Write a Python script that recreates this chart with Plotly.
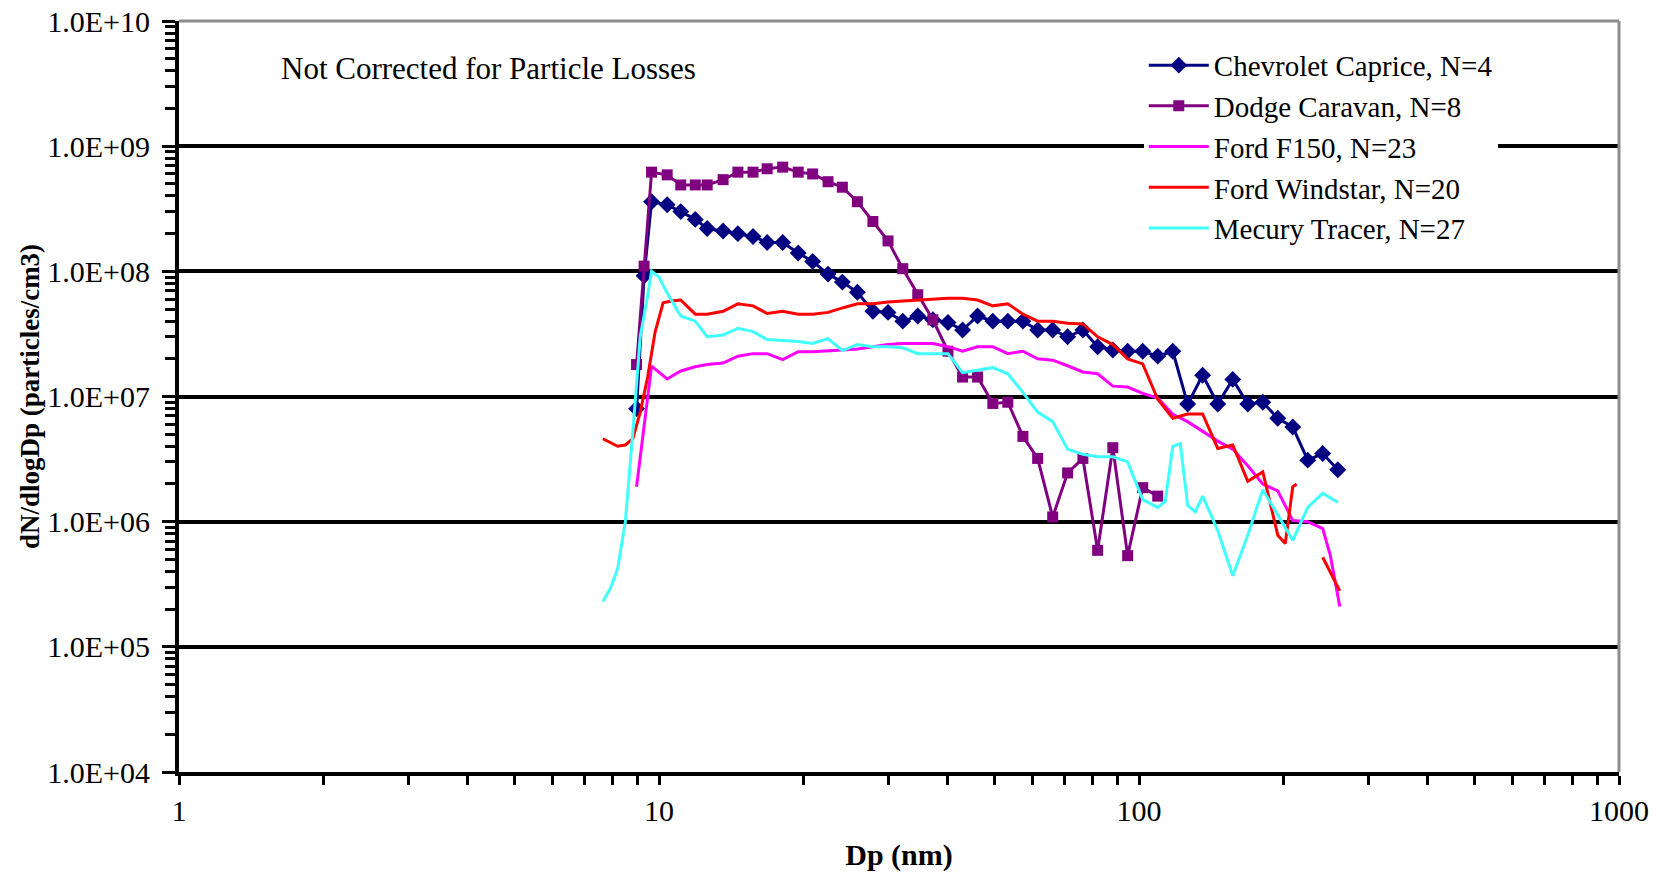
import plotly.graph_objects as go

# Particle size distributions (dN/dlogDp, particles/cm3) versus mobility diameter Dp (nm)
dp_chev = [8.98, 9.31, 9.65, 10.4, 11.1, 11.9, 12.6, 13.6, 14.6, 15.7, 16.8, 18.1,
           19.5, 20.9, 22.5, 24.1, 25.9, 27.9, 30.0, 32.2, 34.6, 37.2, 40.0, 42.9,
           46.1, 49.6, 53.3, 57.3, 61.5, 66.1, 71.0, 76.4, 82.0, 88.2, 94.7, 101.8,
           109.4, 117.6, 126.3, 135.7, 145.9, 156.8, 168.5, 181.1, 194.6, 209.1,
           224.7, 241.4, 259.5]
n_chev = [8.0e6, 9.2e7, 3.6e8, 3.4e8, 3.0e8, 2.6e8, 2.2e8, 2.1e8, 2.0e8, 1.9e8, 1.7e8, 1.7e8,
          1.4e8, 1.2e8, 9.5e7, 8.2e7, 6.8e7, 4.8e7, 4.7e7, 4.0e7, 4.4e7, 4.1e7, 3.9e7, 3.4e7,
          4.4e7, 4.0e7, 4.0e7, 4.0e7, 3.4e7, 3.4e7, 3.0e7, 3.4e7, 2.5e7, 2.35e7, 2.3e7, 2.3e7,
          2.1e7, 2.3e7, 8.7e6, 1.48e7, 8.7e6, 1.37e7, 8.7e6, 9.0e6, 6.7e6, 5.7e6,
          3.1e6, 3.5e6, 2.6e6]

dp_dodge = [8.98, 9.31, 9.65, 10.4, 11.1, 11.9, 12.6, 13.6, 14.6, 15.7, 16.8, 18.1,
            19.5, 20.9, 22.5, 24.1, 25.9, 27.9, 30.0, 32.2, 34.6, 37.2, 40.0, 42.9,
            46.1, 49.6, 53.3, 57.3, 61.5, 66.1, 71.0, 76.4, 82.0, 88.2, 94.7, 101.8,
            109.4]
n_dodge = [1.8e7, 1.1e8, 6.2e8, 5.9e8, 4.9e8, 4.9e8, 4.9e8, 5.4e8, 6.2e8, 6.2e8, 6.6e8, 6.8e8,
           6.2e8, 6.0e8, 5.2e8, 4.7e8, 3.6e8, 2.5e8, 1.75e8, 1.05e8, 6.5e7, 4.1e7, 2.3e7, 1.43e7,
           1.43e7, 8.8e6, 9.0e6, 4.8e6, 3.2e6, 1.09e6, 2.45e6, 3.2e6, 5.9e5, 3.9e6, 5.35e5, 1.87e6,
           1.6e6]

dp_f150 = [8.98, 9.31, 9.65, 10.4, 11.1, 11.9, 12.6, 13.6, 14.6, 15.7, 16.8, 18.1,
           19.5, 20.9, 22.5, 24.1, 25.9, 27.9, 30.0, 32.2, 34.6, 37.2, 40.0, 42.9,
           46.1, 49.6, 53.3, 57.3, 61.5, 66.1, 71.0, 76.4, 82.0, 88.2, 94.7, 101.8,
           109.4, 117.6, 126.3, 135.7, 145.9, 156.8, 168.5, 181.1, 194.6, 209.1,
           224.7, 241.4, 250.3, 262.0]
n_f150 = [1.9e6, 6.0e6, 1.75e7, 1.38e7, 1.6e7, 1.73e7, 1.8e7, 1.85e7, 2.1e7, 2.2e7, 2.2e7, 1.97e7,
          2.28e7, 2.28e7, 2.3e7, 2.35e7, 2.4e7, 2.5e7, 2.6e7, 2.65e7, 2.65e7, 2.65e7, 2.5e7, 2.3e7,
          2.5e7, 2.5e7, 2.2e7, 2.3e7, 2.0e7, 1.95e7, 1.76e7, 1.57e7, 1.52e7, 1.21e7, 1.19e7, 1.06e7,
          9.7e6, 7.2e6, 6.3e6, 5.25e6, 4.4e6, 3.8e6, 2.8e6, 2.0e6, 1.76e6, 1.02e6,
          1.0e6, 8.8e5, 5.4e5, 2.1e5]

dp_wind = [7.64, 7.91, 8.20, 8.51, 8.82, 9.14, 9.47, 9.82, 10.2, 10.6, 11.1, 11.9,
           12.6, 13.6, 14.6, 15.7, 16.8, 18.1, 19.5, 20.9, 22.5, 24.1, 25.9, 27.9,
           30.0, 32.2, 34.6, 37.2, 40.0, 42.9, 46.1, 49.6, 53.3, 57.3, 61.5, 66.1,
           71.0, 76.4, 82.0, 88.2, 94.7, 101.8, 109.4, 117.6, 126.3, 135.7, 145.9,
           156.8, 168.5, 181.1, 194.6, 201.7, 209.1, 213.0, 224.7, 241.4, 250.3, 262.0]
n_wind = [4.6e6, 4.3e6, 4.0e6, 4.1e6, 4.6e6, 7.5e6, 1.43e7, 3.3e7, 5.6e7, 5.8e7, 5.9e7, 4.55e7,
          4.55e7, 4.8e7, 5.5e7, 5.3e7, 4.6e7, 4.8e7, 4.55e7, 4.55e7, 4.7e7, 5.1e7, 5.5e7, 5.5e7,
          5.7e7, 5.8e7, 5.9e7, 6.0e7, 6.1e7, 6.1e7, 5.9e7, 5.3e7, 5.5e7, 4.55e7, 4.0e7, 4.0e7,
          3.85e7, 3.8e7, 3.0e7, 2.6e7, 2.0e7, 1.82e7, 9.5e6, 6.7e6, 7.25e6, 7.25e6, 3.85e6,
          4.1e6, 2.1e6, 2.5e6, 7.8e5, 6.7e5, 1.9e6, 2.0e6, None, 5.2e5, 3.9e5, 2.8e5]

dp_merc = [7.64, 7.91, 8.20, 8.51, 8.82, 9.14, 9.47, 9.65, 10.0, 10.4, 11.1, 11.9,
           12.6, 13.6, 14.6, 15.7, 16.8, 18.1, 19.5, 20.9, 22.5, 24.1, 25.9, 27.9,
           30.0, 32.2, 34.6, 37.2, 40.0, 42.9, 46.1, 49.6, 53.3, 57.3, 61.5, 66.1,
           71.0, 76.4, 82.0, 88.2, 94.7, 101.8, 109.4, 113.4, 117.6, 121.9, 126.3,
           131.0, 135.7, 145.9, 156.8, 168.5, 181.1, 194.6, 209.1, 224.7, 241.4, 259.5]
n_merc = [2.3e5, 2.9e5, 4.2e5, 1.0e6, 5.2e6, 3.0e7, 6.4e7, 1.0e8, 9.0e7, 6.7e7, 4.4e7, 4.0e7,
          3.0e7, 3.1e7, 3.5e7, 3.3e7, 2.85e7, 2.8e7, 2.75e7, 2.65e7, 2.9e7, 2.33e7, 2.6e7, 2.5e7,
          2.5e7, 2.45e7, 2.2e7, 2.2e7, 2.2e7, 1.55e7, 1.63e7, 1.7e7, 1.52e7, 1.08e7, 7.5e6, 6.3e6,
          3.8e6, 3.45e6, 3.3e6, 3.3e6, 3.0e6, 1.5e6, 1.3e6, 1.45e6, 4.0e6, 4.2e6, 1.35e6,
          1.2e6, 1.6e6, 8.5e5, 3.7e5, 7.8e5, 1.8e6, 1.12e6, 7.1e5, 1.3e6, 1.68e6, 1.43e6]

x_tickvals = [1, 10, 100, 1000]
x_ticktext = ["1", "10", "100", "1000"]
y_tickvals = [1e4, 1e5, 1e6, 1e7, 1e8, 1e9, 1e10]
y_ticktext = ["1.0E+04", "1.0E+05", "1.0E+06", "1.0E+07", "1.0E+08", "1.0E+09", "1.0E+10"]

SERIF = "Liberation Serif, Times New Roman, serif"

fig = go.Figure()
fig.add_trace(go.Scatter(
    x=dp_chev, y=n_chev, name="Chevrolet Caprice, N=4", mode="lines+markers",
    line=dict(color="#000080", width=3),
    marker=dict(symbol="diamond", size=13, color="#000080")))
fig.add_trace(go.Scatter(
    x=dp_dodge, y=n_dodge, name="Dodge Caravan, N=8", mode="lines+markers",
    line=dict(color="#800080", width=3),
    marker=dict(symbol="square", size=11, color="#800080")))
fig.add_trace(go.Scatter(
    x=dp_f150, y=n_f150, name="Ford F150, N=23", mode="lines",
    line=dict(color="#FF00FF", width=3)))
fig.add_trace(go.Scatter(
    x=dp_wind, y=n_wind, name="Ford Windstar, N=20", mode="lines",
    line=dict(color="#FF0000", width=3)))
fig.add_trace(go.Scatter(
    x=dp_merc, y=n_merc, name="Mecury Tracer, N=27", mode="lines",
    line=dict(color="#40FFFF", width=3)))

minor_x = [m * 10 ** k for k in range(0, 3) for m in range(2, 10)]
minor_y = [m * 10 ** k for k in range(4, 10) for m in range(2, 10)]

fig.update_xaxes(
    type="log", range=[0, 3], automargin=False,
    tickvals=x_tickvals, ticktext=x_ticktext,
    ticks="outside", ticklen=9, tickwidth=3, tickcolor="black",
    showline=True, linecolor="black", linewidth=4,
    showgrid=False, zeroline=False,
    tickfont=dict(family=SERIF, size=30, color="black"),
    minor=dict(tickvals=minor_x, ticks="outside", ticklen=9, tickwidth=3,
               tickcolor="black", showgrid=False),
    title=dict(text="Dp (nm)", standoff=21,
               font=dict(family=SERIF, size=30, color="black", weight="bold")),
)
fig.update_yaxes(
    type="log", range=[4, 10], automargin=False,
    tickvals=y_tickvals, ticktext=y_ticktext,
    ticks="outside", ticklen=13, tickwidth=3, tickcolor="black",
    ticklabelstandoff=6,
    showline=True, linecolor="black", linewidth=4,
    showgrid=True, gridcolor="black", gridwidth=4, zeroline=False,
    tickfont=dict(family=SERIF, size=30, color="black"),
    minor=dict(tickvals=minor_y, ticks="outside", ticklen=10, tickwidth=3,
               tickcolor="black", showgrid=False),
    title=dict(text="dN/dlogDp (particles/cm3)", standoff=1,
               font=dict(family=SERIF, size=27, color="black", weight="bold")),
)

# grey frame on the top and right edges of the plotting area
fig.add_shape(type="line", xref="paper", yref="paper", x0=0, x1=1, y0=1, y1=1,
              line=dict(color="#8c8c8c", width=3), layer="above")
fig.add_shape(type="line", xref="paper", yref="paper", x0=1, x1=1, y0=0, y1=1,
              line=dict(color="#8c8c8c", width=3), layer="above")

fig.add_annotation(
    text="Not Corrected for Particle Losses", xref="paper", yref="paper",
    x=0.0694, y=0.937, xanchor="left", yanchor="middle", showarrow=False,
    font=dict(family=SERIF, size=31, color="black"))

fig.update_layout(
    width=1664, height=872,
    margin=dict(l=179, r=45, t=21, b=100),
    paper_bgcolor="white", plot_bgcolor="white",
    showlegend=True,
    legend=dict(
        x=0.67, y=0.975, xanchor="left", yanchor="top",
        bgcolor="white", borderwidth=0, itemwidth=60,
        font=dict(family=SERIF, size=29, color="black"),
        tracegroupgap=0,
    ),
)

fig.write_html("out.html")
